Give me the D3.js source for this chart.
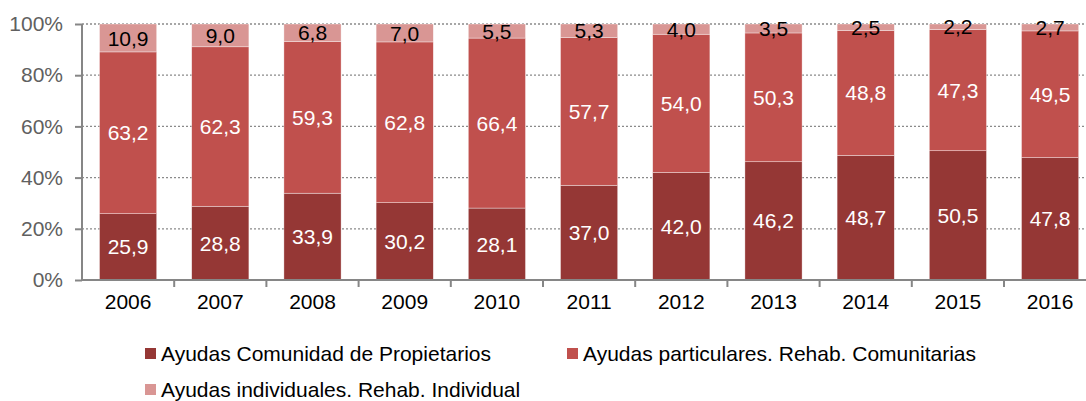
<!DOCTYPE html>
<html><head><meta charset="utf-8">
<script src="https://cdn.jsdelivr.net/npm/d3@7"></script>
<style>body{margin:0;background:#fff}svg{display:block;font-family:"Liberation Sans",Arial,sans-serif}</style>
</head><body><svg id="c" width="1086" height="401"></svg>
<script>
const years = ["2006","2007","2008","2009","2010","2011","2012","2013","2014","2015","2016"];
const comunidad = [25.9,28.8,33.9,30.2,28.1,37.0,42.0,46.2,48.7,50.5,47.8];
const particulares = [63.2,62.3,59.3,62.8,66.4,57.7,54.0,50.3,48.8,47.3,49.5];
const individuales = [10.9,9.0,6.8,7.0,5.5,5.3,4.0,3.5,2.5,2.2,2.7];
const seriesNames = ["Ayudas Comunidad de Propietarios","Ayudas particulares. Rehab. Comunitarias","Ayudas individuales. Rehab. Individual"];
const yTicks = [0,20,40,60,80,100];

const colors = ["#953735","#C0504D","#D99694"];
const labelColors = ["#fff","#fff","#000"];
const FS = 21;
const svg = d3.select("#c");
const x0 = 82, y0 = 280, y1 = 24, band = 92.2;
const x = d3.scaleBand().domain(years).range([x0, x0 + band*years.length]).paddingInner(0.38).paddingOuter(0.19);
const y = d3.scaleLinear().domain([0,100]).range([y0,y1]);

const data = years.map((yr,i)=>({year:yr, s0:comunidad[i], s1:particulares[i], s2:individuales[i]}));
const stack = d3.stack().keys(["s0","s1","s2"])(data);

// gridlines
svg.append("g").selectAll("line").data(yTicks.filter(d=>d>0)).join("line")
  .attr("x1",x0).attr("x2",1086).attr("y1",d=>y(d)).attr("y2",d=>y(d))
  .attr("stroke","#8a8a8a").attr("stroke-width",1.3).attr("stroke-dasharray","2,2");

// bars
stack.forEach((s,k)=>{
  const g = svg.append("g");
  g.selectAll("rect").data(s).join("rect")
    .attr("x",d=>x(d.data.year)).attr("width",x.bandwidth())
    .attr("y",d=>y(Math.min(100,d[1]))).attr("height",d=>y(d[0])-y(Math.min(100,d[1])))
    .attr("fill",colors[k]).attr("stroke","#fff").attr("stroke-width",0.6).attr("stroke-opacity",0.6);
  g.selectAll("text").data(s).join("text")
    .attr("x",d=>x(d.data.year)+x.bandwidth()/2)
    .attr("y",d=>(y(d[0])+y(Math.min(100,d[1])))/2)
    .attr("dy","0.36em").attr("text-anchor","middle")
    .attr("font-size",FS).attr("fill",labelColors[k])
    .text(d=>d3.format(".1f")(d[1]-d[0]).replace(".",","));
});

// y axis
const ya = d3.axisLeft(y).tickValues(yTicks).tickFormat(d=>d+"%").tickSize(7).tickPadding(12);
const gy = svg.append("g").attr("transform",`translate(${x0},0)`).call(ya);
gy.select(".domain").attr("stroke","#868686").attr("stroke-width",2).attr("d",`M0,${y0}V${y1}`);
gy.selectAll(".tick line").attr("stroke","#868686").attr("stroke-width",2);
gy.selectAll("text").attr("font-size",FS).attr("fill","#606060").attr("font-family","Liberation Sans, Arial, sans-serif");

// x axis
const xa = d3.axisBottom(x).tickSize(0).tickPadding(14);
const gx = svg.append("g").attr("transform",`translate(0,${y0})`).call(xa);
gx.select(".domain").attr("stroke","#868686").attr("stroke-width",2).attr("d",`M${x0},0H1086`);
gx.selectAll("text").attr("font-size",FS).attr("fill","#000").attr("dy","0.71em").attr("font-family","Liberation Sans, Arial, sans-serif");
const bounds = years.map((d,i)=>x0 + band*i).slice(1);
svg.append("g").selectAll("line").data(bounds).join("line")
  .attr("x1",d=>d).attr("x2",d=>d).attr("y1",y0).attr("y2",y0+7)
  .attr("stroke","#868686").attr("stroke-width",2);

// legend
const legPos = [[145,353],[567,353],[145,389]];
const lg = svg.append("g").selectAll("g").data(seriesNames).join("g")
  .attr("transform",(d,i)=>`translate(${legPos[i][0]},${legPos[i][1]})`);
lg.append("rect").attr("x",0).attr("y",-5).attr("width",11).attr("height",11).attr("fill",(d,i)=>colors[i]);
lg.append("text").attr("x",16).attr("y",0).attr("dy","0.36em").attr("font-size",FS).attr("fill","#000").text(d=>d);
</script></body></html>
